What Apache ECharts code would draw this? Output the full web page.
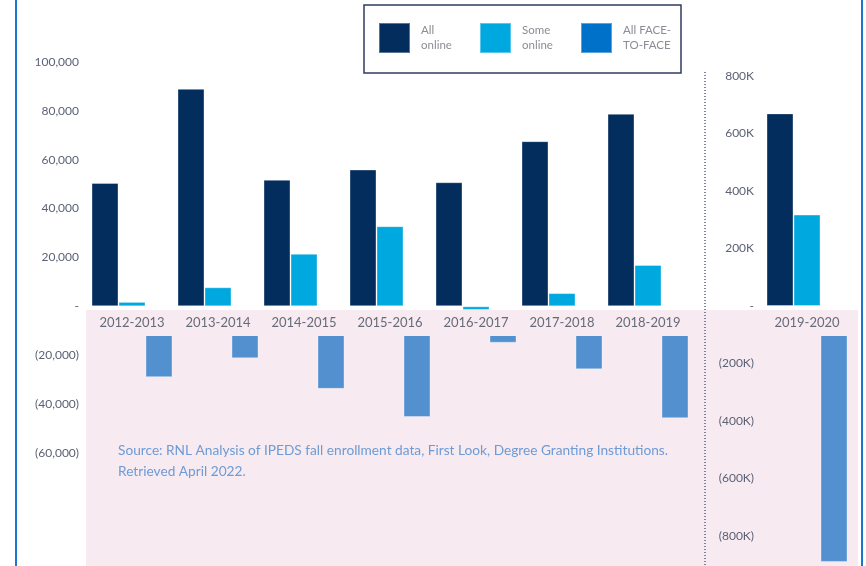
<!DOCTYPE html>
<html>
<head>
<meta charset="utf-8">
<title>Online enrollment change</title>
<script src="https://cdn.jsdelivr.net/npm/echarts@6/dist/echarts.min.js"></script>
<style>
  html, body { margin: 0; padding: 0; background: #fff; }
  #chart { width: 866px; height: 566px; }
</style>
</head>
<body>
<div id="chart"></div>
<script>
// 年度变化（人数）
const categories = ['2012-2013', '2013-2014', '2014-2015', '2015-2016', '2016-2017', '2017-2018', '2018-2019']
const allOnline = [50500, 89000, 51800, 56000, 50800, 67600, 78800]
const someOnline = [1800, 7800, 21500, 32800, -1500, 5400, 16900]
const allFaceToFace = [-29000, -21300, -33800, -45300, -14900, -25800, -45800]

// 2019-2020 单独一个刻度
const recentCategory = ['2019-2020']
const recentAllOnline = [670000]
const recentSomeOnline = [318000]
const recentFaceToFace = [-890000]

const legendNames = ['All online', 'Some online', 'All FACE-TO-FACE']
const legendLabels = {
  'All online': 'All\nonline',
  'Some online': 'Some\nonline',
  'All FACE-TO-FACE': 'All FACE-\nTO-FACE',
}

const COLORS = {
  allOnline: '#022d5c',
  someOnline: '#00a8e0',
  face: '#5290d0',
  faceLegend: '#0071c9',
  text: '#5c6275',
  band: '#f7eaf0',
}
const FONT = 'Lato, "Noto Sans", sans-serif'

// 两个网格的零线都放在 y = 306
const ZERO_Y = 306
const LEFT_GRID = { left: 89, top: 62, width: 602, height: 488.6 }
const RIGHT_GRID = { left: 764, top: 76, width: 86, height: 517.5 }

function fmtLeft(v) {
  if (v === 0) return '-'
  if (v < -60000) return ''
  const s = Math.abs(v).toLocaleString('en-US')
  return v < 0 ? '(' + s + ')' : s
}

function fmtRight(v) {
  if (v === 0) return '-'
  if (v < -800000) return ''
  const s = Math.abs(v / 1000) + 'K'
  return v < 0 ? '(' + s + ')' : s
}

function barSeries(name, data, color, axisIndex, z) {
  return {
    name,
    type: 'bar',
    xAxisIndex: axisIndex,
    yAxisIndex: axisIndex,
    data,
    z,
    barWidth: 27,
    barGap: '0%',
    itemStyle: { color, borderColor: 'rgba(255,255,255,0.35)', borderWidth: 1 },
    silent: true,
  }
}

// x 轴标签放在零线下方（用 offset，而不是 onZero）
function xAxisFor(gridIndex, grid, data) {
  return {
    type: 'category',
    gridIndex,
    data,
    z: 10,
    offset: -(grid.top + grid.height - ZERO_Y),
    axisLine: { show: false, onZero: false },
    axisTick: { show: false },
    axisLabel: { color: '#666b7a', fontSize: 13, fontFamily: FONT, margin: 10 },
  }
}

function yAxisFor(gridIndex, min, max, interval, formatter) {
  return {
    type: 'value',
    gridIndex,
    min,
    max,
    interval,
    z: 10,
    splitLine: { show: false },
    axisLine: { show: false },
    axisTick: { show: false },
    axisLabel: { formatter, color: COLORS.text, fontSize: 12, fontFamily: FONT, margin: 10 },
  }
}

const chart = echarts.init(document.getElementById('chart'), null, { renderer: 'canvas' })

chart.setOption({
  animation: false,
  backgroundColor: '#fff',
  legend: {
    left: 378,
    top: 22,
    padding: 0,
    itemWidth: 31,
    itemHeight: 30,
    itemGap: 16,
    icon: 'rect',
    selectedMode: false,
    data: [
      { name: 'All online' },
      { name: 'Some online' },
      { name: 'All FACE-TO-FACE', itemStyle: { color: COLORS.faceLegend } },
    ],
    formatter: name => legendLabels[name],
    textStyle: {
      color: '#8b8d94',
      fontSize: 11.5,
      lineHeight: 15,
      fontFamily: FONT,
      width: 42,
      padding: [0, 0, 2, 6],
    },
  },
  grid: [
    Object.assign({ outerBoundsMode: 'none' }, LEFT_GRID),
    Object.assign({ outerBoundsMode: 'none' }, RIGHT_GRID),
  ],
  xAxis: [
    xAxisFor(0, LEFT_GRID, categories),
    xAxisFor(1, RIGHT_GRID, recentCategory),
  ],
  yAxis: [
    yAxisFor(0, -100000, 100000, 20000, fmtLeft),
    yAxisFor(1, -1000000, 800000, 200000, fmtRight),
  ],
  series: [
    barSeries(legendNames[0], allOnline, COLORS.allOnline, 0, 2),
    barSeries(legendNames[1], someOnline, COLORS.someOnline, 0, 7),
    barSeries(legendNames[2], allFaceToFace, COLORS.face, 0, 2),
    barSeries(legendNames[0], recentAllOnline, COLORS.allOnline, 1, 2),
    barSeries(legendNames[1], recentSomeOnline, COLORS.someOnline, 1, 7),
    barSeries(legendNames[2], recentFaceToFace, COLORS.face, 1, 2),
  ],
  graphic: [
    // 粉色底带
    { type: 'rect', z: 0, silent: true, shape: { x: 86, y: 310, width: 772, height: 256 }, style: { fill: COLORS.band } },
    // 零线到底带之间的白缝，以及分类标签那一行，盖住柱子起点
    { type: 'rect', z: 5, silent: true, shape: { x: 86, y: 306, width: 772, height: 4 }, style: { fill: '#fff' } },
    { type: 'rect', z: 5, silent: true, shape: { x: 86, y: 310, width: 772, height: 26 }, style: { fill: COLORS.band } },
    // 图例外框
    { type: 'rect', z: 1, silent: true, shape: { x: 364, y: 5, width: 317, height: 68 }, style: { fill: 'none', stroke: '#2f3d60', lineWidth: 1.5 } },
    // 左右两条蓝色边线
    { type: 'line', z: 1, silent: true, shape: { x1: 16, y1: 0, x2: 16, y2: 566 }, style: { stroke: '#1b76cf', lineWidth: 2 } },
    { type: 'line', z: 1, silent: true, shape: { x1: 862, y1: 0, x2: 862, y2: 566 }, style: { stroke: '#1b76cf', lineWidth: 2 } },
    // 中间的点线分隔
    { type: 'line', z: 6, silent: true, shape: { x1: 705, y1: 72, x2: 705, y2: 566 }, style: { stroke: '#55627f', lineWidth: 1.5, lineDash: [1, 2] } },
    {
      type: 'text', z: 6, silent: true, left: 118, top: 440,
      style: {
        text: 'Source: RNL Analysis of IPEDS fall enrollment data, First Look, Degree Granting Institutions.\nRetrieved April 2022.',
        fill: '#6d9bd6',
        font: '13.7px ' + FONT,
        lineHeight: 21,
      },
    },
  ],
})
</script>
</body>
</html>
